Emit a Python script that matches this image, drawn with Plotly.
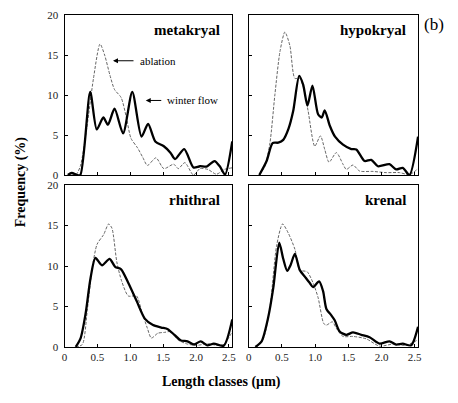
import plotly.graph_objects as go

# ---- data ----
meta_w_x = [0.05, 0.11, 0.19, 0.24, 0.39, 0.49, 0.59, 0.66, 0.76, 0.89, 1.03, 1.17, 1.27, 1.38, 1.51, 1.61, 1.68, 1.82, 1.96, 2.06, 2.16, 2.28, 2.36, 2.44, 2.55]
meta_w_y = [0.0, 0.25, 0.0, 0.0, 10.4, 5.7, 7.2, 6.3, 8.3, 5.2, 10.4, 4.8, 6.4, 4.2, 3.6, 2.8, 2.0, 3.25, 0.95, 1.1, 1.05, 1.75, 1.1, 0.05, 4.2]
meta_a_x = [0.05, 0.11, 0.17, 0.24, 0.34, 0.44, 0.54, 0.61, 0.69, 0.76, 0.86, 0.94, 1.01, 1.11, 1.19, 1.26, 1.39, 1.51, 1.66, 1.73, 1.83, 1.96, 2.06, 2.18, 2.31, 2.43, 2.55]
meta_a_y = [0.0, 0.2, 0.0, 1.1, 6.0, 12.1, 16.4, 15.0, 12.5, 10.7, 9.7, 7.2, 4.6, 3.4, 2.2, 1.2, 2.15, 0.8, 1.35, 0.8, 1.55, 0.0, 0.8, 0.7, 0.1, 0.7, 0.9]

hypo_w_x = [0.16, 0.27, 0.36, 0.445, 0.52, 0.6, 0.67, 0.76, 0.82, 0.885, 0.96, 1.045, 1.1, 1.145, 1.22, 1.3, 1.42, 1.545, 1.62, 1.745, 1.845, 1.945, 2.12, 2.22, 2.32, 2.42, 2.55]
hypo_w_y = [0.0, 1.75, 4.0, 4.05, 4.4, 5.8, 8.0, 12.4, 11.3, 8.7, 11.2, 7.6, 7.2, 8.1, 6.2, 4.8, 3.8, 3.25, 3.2, 1.75, 1.9, 1.1, 1.35, 0.7, 0.9, 0.0, 4.8]
hypo_a_x = [0.16, 0.245, 0.32, 0.395, 0.47, 0.545, 0.62, 0.695, 0.77, 0.82, 0.895, 0.995, 1.08, 1.145, 1.21, 1.32, 1.42, 1.47, 1.57, 1.67, 1.87, 2.07, 2.27, 2.42, 2.55]
hypo_a_y = [0.0, 1.1, 4.0, 10.1, 15.4, 17.9, 16.2, 12.1, 12.1, 11.1, 8.0, 3.6, 4.9, 3.2, 1.6, 2.8, 1.35, 0.7, 1.25, 0.5, 0.45, 0.3, 0.3, 0.05, 0.8]

rhit_w_x = [0.17, 0.245, 0.32, 0.395, 0.47, 0.57, 0.685, 0.77, 0.86, 0.97, 1.095, 1.22, 1.345, 1.47, 1.57, 1.67, 1.77, 1.87, 1.97, 2.07, 2.17, 2.27, 2.42, 2.55]
rhit_w_y = [0.0, 1.1, 4.1, 8.5, 11.0, 10.1, 10.9, 9.9, 9.6, 7.9, 5.7, 3.5, 2.7, 2.4, 2.2, 1.5, 0.8, 0.7, 0.3, 0.7, 0.2, 0.4, 0.15, 3.4]
rhit_a_x = [0.17, 0.27, 0.345, 0.42, 0.495, 0.595, 0.67, 0.72, 0.795, 0.87, 0.97, 1.095, 1.17, 1.26, 1.32, 1.42, 1.52, 1.62, 1.72, 1.87, 2.02, 2.17, 2.32, 2.42, 2.55]
rhit_a_y = [0.0, 0.3, 4.5, 9.7, 12.7, 13.9, 15.2, 14.7, 10.5, 8.1, 6.3, 6.3, 4.5, 2.3, 1.1, 1.7, 1.8, 1.9, 0.9, 0.35, 0.2, 0.4, 0.2, 0.3, 1.9]

kren_w_x = [0.1, 0.195, 0.295, 0.37, 0.46, 0.52, 0.58, 0.63, 0.695, 0.77, 0.845, 0.92, 0.97, 1.06, 1.12, 1.17, 1.245, 1.295, 1.37, 1.47, 1.57, 1.695, 1.82, 1.97, 2.12, 2.22, 2.32, 2.445, 2.55]
kren_w_y = [0.0, 0.7, 3.7, 7.3, 12.9, 10.9, 9.4, 10.1, 11.5, 9.5, 8.7, 7.9, 7.4, 8.1, 6.9, 4.7, 3.9, 3.3, 1.9, 1.5, 1.8, 1.5, 1.2, 0.4, 0.7, 0.3, 0.4, 0.2, 2.5]
kren_a_x = [0.12, 0.22, 0.32, 0.42, 0.51, 0.595, 0.695, 0.77, 0.88, 0.97, 1.045, 1.13, 1.17, 1.26, 1.32, 1.42, 1.57, 1.77, 1.97, 2.17, 2.37, 2.55]
kren_a_y = [0.0, 1.0, 4.9, 12.5, 15.2, 14.1, 12.1, 9.5, 9.3, 7.9, 6.1, 2.9, 2.7, 3.1, 2.3, 1.3, 1.3, 1.0, 0.1, 0.35, 0.2, 0.9]

panel_names = ["metakryal", "hypokryal", "rhithral", "krenal"]
x_ticks = [0, 0.5, 1.0, 1.5, 2.0, 2.5]
x_ticklabels = ["0", "0.5", "1.0", "1.5", "2.0", "2.5"]
y_ticks = [0, 5, 10, 15, 20]

series = [
    (meta_w_x, meta_w_y, meta_a_x, meta_a_y),
    (hypo_w_x, hypo_w_y, hypo_a_x, hypo_a_y),
    (rhit_w_x, rhit_w_y, rhit_a_x, rhit_a_y),
    (kren_w_x, kren_w_y, kren_a_x, kren_a_y),
]

W, H = 458, 403
FONT = "Liberation Serif"
xdoms = [[62.5 / W, 232.8 / W], [249.5 / W, 421.5 / W]]
ydoms = [[1 - 174.2 / H, 1 - 9.5 / H], [1 - 351.4 / H, 1 - 184.7 / H]]

fig = go.Figure()
layout = dict(
    width=W, height=H, margin=dict(l=0, r=0, t=0, b=0),
    paper_bgcolor="white", plot_bgcolor="white", showlegend=False,
    font=dict(family=FONT, size=11, color="#111"),
)
annotations = []
for i, (wx, wy, ax_, ay_) in enumerate(series):
    r, c = divmod(i, 2)
    n = "" if i == 0 else str(i + 1)
    xa, ya = "x" + n, "y" + n
    fig.add_trace(go.Scatter(x=ax_, y=ay_, xaxis=xa, yaxis=ya, mode="lines",
                             line=dict(color="#666", width=1, dash="3px,1.5px", shape="spline", smoothing=0.7)))
    fig.add_trace(go.Scatter(x=wx, y=wy, xaxis=xa, yaxis=ya, mode="lines",
                             line=dict(color="black", width=2.3, shape="spline", smoothing=0.7)))
    layout["xaxis" + n] = dict(
        domain=xdoms[c], anchor=ya, range=[0, 2.55], tickvals=x_ticks,
        ticktext=x_ticklabels, showticklabels=(r == 1), ticks="inside", ticklen=3,
        tickcolor="black", showline=True, linecolor="black", linewidth=1, mirror=True,
        showgrid=False, zeroline=False, fixedrange=True,
        tickfont=dict(family=FONT, size=11, color="#222"),
    )
    layout["yaxis" + n] = dict(
        domain=ydoms[r], anchor=xa, range=[0, 20], tickvals=y_ticks,
        showticklabels=(c == 0), ticks="inside", ticklen=3, tickcolor="black",
        showline=True, linecolor="black", linewidth=1, mirror=True,
        showgrid=False, zeroline=False, fixedrange=True, ticklabelstandoff=3,
        tickfont=dict(family=FONT, size=11, color="#222"),
    )
    annotations.append(dict(
        text="<b>" + panel_names[i] + "</b>", xref=xa + " domain", yref=ya + " domain",
        x=0.94, y=0.91, xanchor="right", yanchor="middle", showarrow=False,
        font=dict(family=FONT, size=15, color="black"),
    ))

annotations += [
    dict(x=0.737, y=14.3, xref="x", yref="y", ax=22, ay=0, text="", showarrow=True,
         arrowhead=2, arrowsize=1, arrowwidth=1, arrowcolor="black", standoff=0),
    dict(x=1.115, y=14.3, xref="x", yref="y", text="ablation", showarrow=False,
         xanchor="left", yanchor="middle", font=dict(family=FONT, size=11, color="black")),
    dict(x=1.235, y=9.33, xref="x", yref="y", ax=17, ay=0, text="", showarrow=True,
         arrowhead=2, arrowsize=1, arrowwidth=1, arrowcolor="black", standoff=0),
    dict(x=1.52, y=9.33, xref="x", yref="y", text="winter flow", showarrow=False,
         xanchor="left", yanchor="middle", font=dict(family=FONT, size=11, color="black")),
    dict(text="(b)", xref="paper", yref="paper", x=438 / W, y=1 - 19 / H,
         xanchor="center", yanchor="middle", showarrow=False,
         font=dict(family=FONT, size=17, color="black")),
    dict(text="<b>Length classes (µm)</b>", xref="paper", yref="paper", x=222 / W,
         y=1 - 388 / H, xanchor="center", yanchor="middle", showarrow=False,
         font=dict(family=FONT, size=14, color="black")),
    dict(text="<b>Frequency (%)</b>", xref="paper", yref="paper", x=18 / W,
         y=1 - 181 / H, xanchor="center", yanchor="middle", showarrow=False,
         textangle=-90, font=dict(family=FONT, size=14, color="black")),
]
layout["annotations"] = annotations
fig.update_layout(**layout)
fig.write_html(
    "out.html",
    config={"displayModeBar": False},
    post_script="document.body.style.margin='0';document.body.style.overflow='hidden';",
)
